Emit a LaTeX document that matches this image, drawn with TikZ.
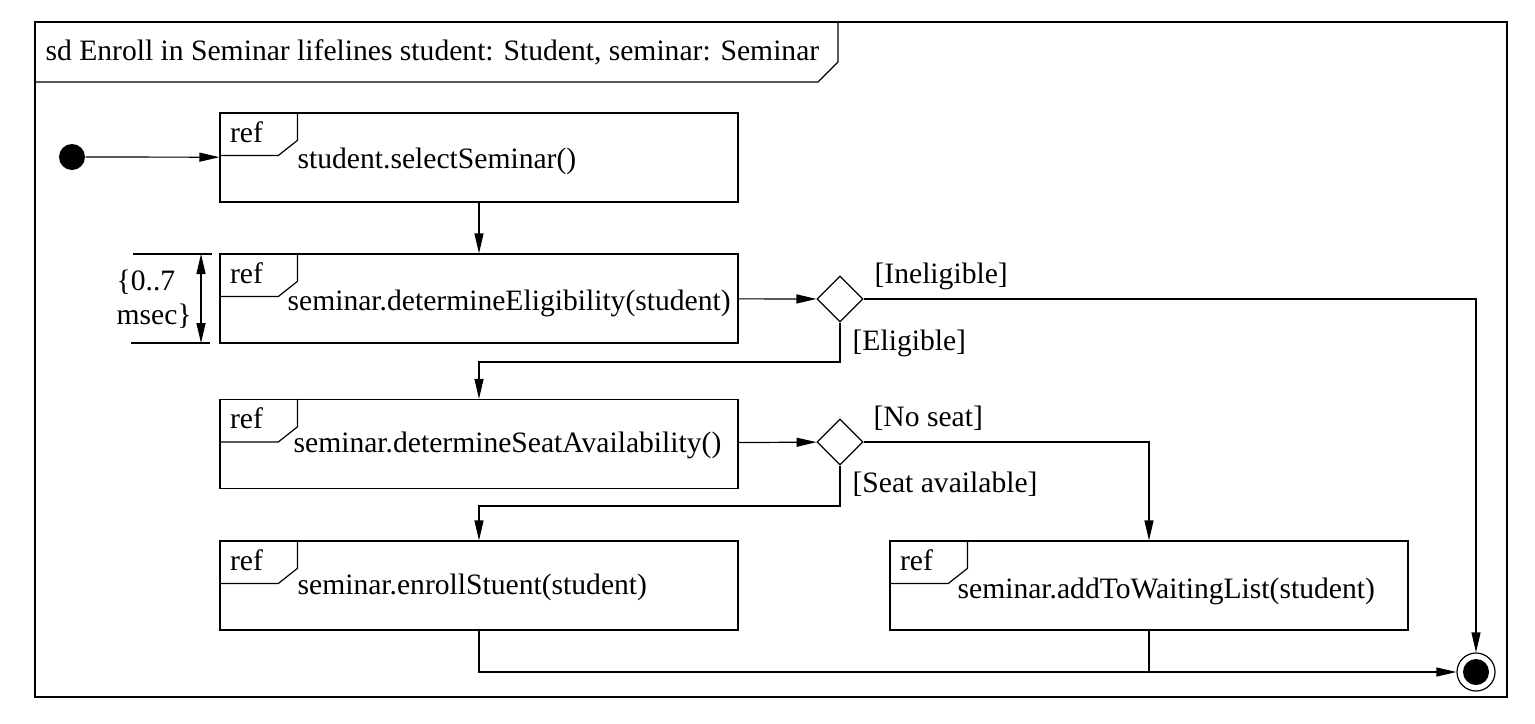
\documentclass[tikz,border=0pt]{standalone}
\usepackage{fontspec}
\setmainfont{Liberation Serif}
\usetikzlibrary{shapes.geometric, positioning, arrows.meta}

\newcommand{\reftab}[1]{%
    \draw ([xshift=39pt]#1.north west) -- ++(0,28) -- ++(-19,15) -- ([yshift=-21.5pt]#1.north west);
    \node[anchor=base west, inner sep=0pt] (#1ref) at ([xshift=5pt, yshift=-15pt]#1.north west) {ref};
}

\begin{document}
\begin{tikzpicture}[x=0.5pt, y=-0.5pt, line width=0.6pt, >={Triangle[length=10pt, width=4.5pt]}, font=\fontsize{14.8pt}{17pt}\selectfont]
    \tikzstyle{refbox} = [draw, rectangle, minimum width=259pt, minimum height=44.5pt, inner sep=0pt]
    \tikzstyle{choice} = [draw, diamond, minimum width=23pt, minimum height=23pt, inner sep=0pt]
    \tikzstyle{txt} = [anchor=base west, inner sep=0pt]
    \tikzstyle{start} = [circle, fill=black, minimum size=13pt, inner sep=0pt]
    \tikzstyle{stop} = [draw, circle, minimum size=19pt, inner sep=0pt,
        path picture={\fill (path picture bounding box.center) circle (6.5pt);}]

    \useasboundingbox (0,0) rectangle (1535,723);

    % frame and heading
    \draw (35,22) rectangle (1507,697);
    \draw (35,82) -- (818,82) -- (838,62) -- (838,22);
    \node[txt] (title) at (45,60) {sd Enroll in Seminar lifelines student: Student, seminar: Seminar};

    \path[->]
        node[start] (init) at (72,157) {}
        node[refbox] (select) at (479,157.5) {}
        node[refbox] (elig) at (479,298.5) {}
        node[refbox] (seat) at (479,444) {}
        node[refbox] (enroll) at (479,585.5) {}
        node[refbox] (wait) at (1149,585.5) {}
        node[choice] (d1) at (840,299) {}
        node[choice] (d2) at (840,442) {}
        node[stop] (fin) at (1476,672) {}

        (init) edge (select)
        (select) edge (elig)
        (elig) edge (d1)
        (seat) edge (d2)
        ;

    \reftab{select}
    \reftab{elig}
    \reftab{seat}
    \reftab{enroll}
    \reftab{wait}

    \node[txt] (selectT) at (297,168) {student.selectSeminar()};
    \node[txt] (eligT) at (287,310) {seminar.determineEligibility(student)};
    \node[txt] (seatT) at (293,452) {seminar.determineSeatAvailability()};
    \node[txt] (enrollT) at (297,594) {seminar.enrollStuent(student)};
    \node[txt] (waitT) at (957,598) {seminar.addToWaitingList(student)};

    % guards
    \node[txt] (inelig) at (874,283) {[Ineligible]};
    \node[txt] (eligG) at (852,350) {[Eligible]};
    \node[txt] (noseat) at (873,426) {[No seat]};
    \node[txt] (seatG) at (852,492) {[Seat available]};

    \coordinate (j1) at (479,362);
    \coordinate (j2) at (479,506);
    \draw[->] (d1.east) -| (fin.north);
    \draw[->] (d1.south) |- (j1) -- (seat.north);
    \draw[->] (d2.east) -| (wait.north);
    \draw[->] (d2.south) |- (j2) -- (enroll.north);
    \draw[->] (enroll.south) |- (fin.west);
    \draw (wait.south) -- (wait.south |- fin.west);

    % duration constraint
    \coordinate (t1a) at (133,254);
    \coordinate (t1b) at (212,254);
    \coordinate (t2a) at (131,343);
    \coordinate (t2b) at (210,343);
    \coordinate (t1c) at (201,254);
    \coordinate (t2c) at (201,343);
    \draw (t1a) -- (t1b);
    \draw (t2a) -- (t2b);
    \draw[<->] (t1c) -- (t2c);
    \node[anchor=west, align=left, inner sep=0pt] (dur) at (116,299) {\{0..7\\msec\}};
\end{tikzpicture}
\end{document}
